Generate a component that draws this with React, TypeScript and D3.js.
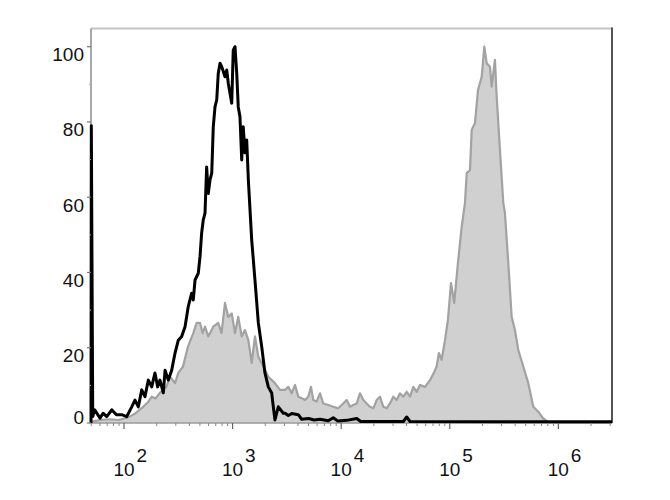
import React from "react";
import * as d3 from "d3";

// x values are log10(fluorescence), y values are % of max
const isotypeSeries: [number, number][] = [
  [1.696, 0], [1.699, 79], [1.712, 1.7], [1.73, 3.5], [1.779, 1.3], [1.807, 2.6], [1.841, 1.7],
  [1.887, 3.5], [1.93, 2.2], [1.979, 2.2], [2.025, 1.7], [2.071, 4.3], [2.101, 6.1], [2.132, 4.3],
  [2.163, 8.8], [2.193, 7], [2.224, 11.4], [2.255, 9.6], [2.285, 13.3], [2.31, 9.6], [2.331, 11.4],
  [2.362, 8], [2.378, 14], [2.408, 11.4], [2.439, 14], [2.47, 18.6], [2.5, 22], [2.531, 23],
  [2.562, 25.6], [2.592, 31], [2.623, 34.5], [2.638, 32.7], [2.654, 38], [2.684, 39.8], [2.7, 44.2],
  [2.715, 50.5], [2.73, 54], [2.746, 55.8], [2.761, 68], [2.776, 61], [2.792, 64.6], [2.808, 66.4],
  [2.822, 78.7], [2.838, 84], [2.854, 85.9], [2.868, 92.9], [2.884, 95.6], [2.9, 94.7], [2.93, 92],
  [2.946, 93.8], [2.96, 90.3], [2.992, 85], [3.006, 99.1], [3.022, 100], [3.038, 93], [3.052, 84],
  [3.068, 81.4], [3.084, 69.9], [3.098, 78.7], [3.114, 71.8], [3.13, 75.2], [3.145, 64.6],
  [3.176, 48.6], [3.206, 38], [3.237, 26.6], [3.268, 20.3], [3.298, 13.3], [3.329, 9.6], [3.36, 8],
  [3.375, 4.3], [3.39, 0.8], [3.421, 4.3], [3.467, 2.6], [3.483, 2.6], [3.513, 2], [3.544, 2.5],
  [3.605, 2.2], [3.636, 1], [3.7, 1.2], [3.75, 0.8], [3.805, 1], [3.881, 0.6], [3.927, 1.4],
  [3.97, 0.5], [4.051, 0.7], [4.143, 1.2], [4.18, 0.4], [4.4, 0.4], [4.572, 0.4], [4.603, 1.6],
  [4.634, 0.4], [6.494, 0.3],
];

const stainedSeries: [number, number][] = [
  [1.696, 0.3], [1.779, 0.8], [1.87, 1], [1.95, 0.8], [2.04, 1.5], [2.101, 2.5], [2.165, 4],
  [2.22, 5.5], [2.255, 7], [2.29, 6.5], [2.331, 8], [2.39, 9.6], [2.424, 12.3], [2.47, 10.6],
  [2.5, 13.3], [2.543, 15], [2.589, 20.3], [2.638, 23.9], [2.669, 26.6], [2.7, 26.6], [2.724, 23.9],
  [2.746, 25.6], [2.776, 23], [2.822, 25.6], [2.868, 26.6], [2.898, 23.9], [2.93, 31.9],
  [2.96, 28.2], [2.992, 29.1], [3.022, 23.9], [3.052, 28.2], [3.084, 23], [3.114, 24.7],
  [3.145, 22], [3.176, 16], [3.206, 23], [3.237, 17.6], [3.283, 15], [3.329, 12.3], [3.39, 10.6],
  [3.436, 8.8], [3.483, 8.8], [3.513, 9.6], [3.544, 7.9], [3.575, 10.1], [3.605, 7], [3.636, 6.6],
  [3.667, 6.1], [3.697, 7], [3.722, 9.6], [3.743, 6.1], [3.774, 5.7], [3.805, 7.9], [3.835, 5.2],
  [3.881, 4.8], [3.927, 4.3], [3.973, 3.9], [4.019, 5.2], [4.051, 6.1], [4.081, 4.3], [4.111, 4.8],
  [4.143, 5.2], [4.173, 7.9], [4.204, 6.1], [4.235, 5.2], [4.265, 4.3], [4.296, 3.9], [4.327, 6.1],
  [4.357, 7], [4.388, 4.3], [4.419, 3.9], [4.449, 5.2], [4.48, 7], [4.511, 6.1], [4.541, 7.9],
  [4.572, 7], [4.603, 8.3], [4.634, 7], [4.664, 9.6], [4.695, 8.3], [4.726, 10.1], [4.772, 9.6],
  [4.818, 11.4], [4.848, 13], [4.879, 15], [4.9, 18.6], [4.925, 16.8], [4.956, 22], [4.983, 27.4],
  [5.011, 37.2], [5.041, 31.9], [5.075, 42.5], [5.11, 52.2], [5.14, 58.5], [5.156, 66.4],
  [5.186, 67.2], [5.202, 77.9], [5.232, 79.7], [5.26, 88.5], [5.294, 92], [5.318, 100],
  [5.34, 95.6], [5.37, 94.7], [5.386, 89.4], [5.416, 96.5], [5.432, 86.7], [5.462, 72.6],
  [5.493, 58.5], [5.508, 55.8], [5.539, 42.5], [5.57, 28.2], [5.6, 24.7], [5.631, 19.4],
  [5.677, 15], [5.723, 10.6], [5.769, 4.3], [5.815, 3], [5.861, 1.2], [5.907, 0.3], [5.95, 0],
  [6.494, 0],
];

const yTicks = [0, 20, 40, 60, 80, 100];
const xTickExponents = [2, 3, 4, 5, 6];
const xDomainExp: [number, number] = [1.696, 6.494];

const W = 670;
const H = 500;
const L = 91;
const R = 612;
const T = 28.5;
const B = 423;
const FONT = "'Liberation Sans', Arial, sans-serif";
const FS = 19;

export default function App() {
  const x = d3
    .scaleLog()
    .domain([Math.pow(10, xDomainExp[0]), Math.pow(10, xDomainExp[1])])
    .range([L, R]);
  const y = d3.scaleLinear().domain([0, 100]).range([B, 46.7]);

  const area = d3
    .area<[number, number]>()
    .x((d) => x(Math.pow(10, d[0])))
    .y0(y(0))
    .y1((d) => y(d[1]));
  const line = d3
    .line<[number, number]>()
    .x((d) => x(Math.pow(10, d[0])))
    .y((d) => y(d[1]));

  const minorTicks: number[] = [];
  for (let e = 1; e <= 6; e++) {
    for (let m = 2; m <= 9; m++) {
      const v = m * Math.pow(10, e);
      if (v > x.domain()[0] && v < x.domain()[1]) minorTicks.push(v);
    }
  }
  const yMinor = [10, 30, 50, 70, 90];

  return (
    <svg
      width={W}
      height={H}
      style={{ position: "absolute", left: 0, top: 0, background: "#fff" }}
    >
      <rect x={0} y={0} width={W} height={H} fill="#fff" />
      {/* stained histogram */}
      <path d={area(stainedSeries) || ""} fill="#d0d0d0" stroke="none" />
      <path
        d={line(stainedSeries) || ""}
        fill="none"
        stroke="#a2a2a2"
        strokeWidth={2.2}
        strokeLinejoin="round"
      />
      {/* frame */}
      <line x1={L} x2={R} y1={T} y2={T} stroke="#c4c4c4" strokeWidth={2} />
      <line x1={R} x2={R} y1={T - 1} y2={B} stroke="#555" strokeWidth={2} />
      <line x1={L} x2={R} y1={B} y2={B} stroke="#9a9a9a" strokeWidth={1.5} />
      <line x1={L} x2={L} y1={T} y2={B} stroke="#8a8a8a" strokeWidth={1.5} />
      {/* isotype line */}
      <path
        d={line(isotypeSeries) || ""}
        fill="none"
        stroke="#000"
        strokeWidth={3}
        strokeLinejoin="round"
      />
      {/* x ticks */}
      {minorTicks.map((v, i) => (
        <line key={"xm" + i} x1={x(v)} x2={x(v)} y1={B} y2={B + 3} stroke="#888" strokeWidth={1} />
      ))}
      {xTickExponents.map((e) => {
        const tx = x(Math.pow(10, e));
        return (
          <g key={"xt" + e}>
            <line x1={tx} x2={tx} y1={B} y2={B + 6} stroke="#666" strokeWidth={1.2} />
            <text x={tx} y={476} textAnchor="middle" fontFamily={FONT} fontSize={FS} fill="#111">
              10
            </text>
            <text x={tx + 12.5} y={462} textAnchor="start" fontFamily={FONT} fontSize={FS} fill="#111">
              {e}
            </text>
          </g>
        );
      })}
      {/* y ticks */}
      {yMinor.map((v) => (
        <line key={"ym" + v} x1={L - 2} x2={L} y1={y(v)} y2={y(v)} stroke="#aaa" strokeWidth={1} />
      ))}
      {yTicks.map((v) => (
        <g key={"yt" + v}>
          <line x1={L - 4} x2={L} y1={y(v)} y2={y(v)} stroke="#777" strokeWidth={1.2} />
          <text
            x={84}
            y={v === 0 ? y(v) - 6 : y(v) + 8}
            textAnchor="end"
            dominantBaseline="central"
            fontFamily={FONT}
            fontSize={FS}
            fill="#111"
          >
            {v}
          </text>
        </g>
      ))}
    </svg>
  );
}
